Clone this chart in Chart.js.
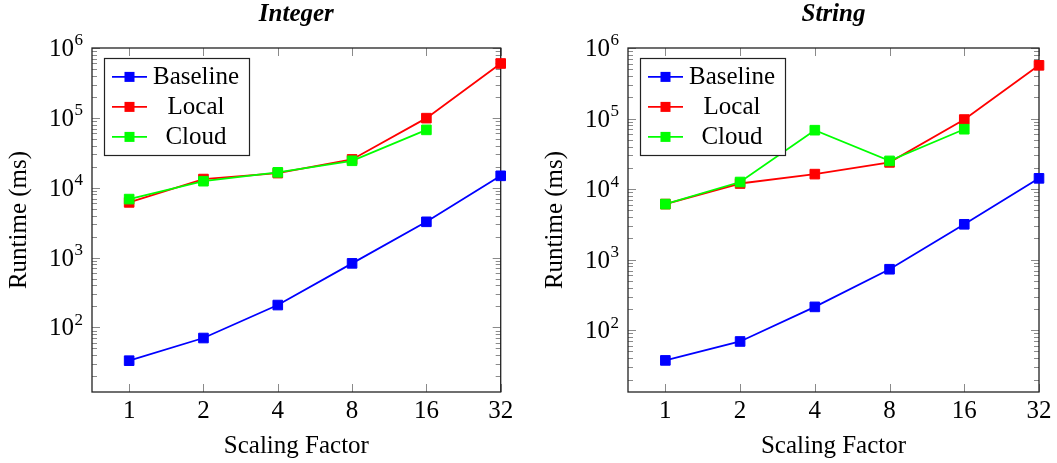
<!DOCTYPE html>
<html><head><meta charset="utf-8">
<script src="https://cdn.jsdelivr.net/npm/chart.js@4"></script>
<style>
html,body{margin:0;padding:0;background:#fff;}
#wrap{position:relative;width:1057px;height:463px;overflow:hidden;}
.c{position:absolute;top:0;height:463px;}
</style></head><body>
<div id="wrap">
<div class="c" style="left:0;width:530px"><canvas id="c1"></canvas></div>
<div class="c" style="left:530px;width:527px"><canvas id="c2"></canvas></div>
</div>
<script>
const categories = ['1','2','4','8','16','32'];
const yTickValues = [1e2, 1e3, 1e4, 1e5, 1e6];
const seriesNames = ['Baseline', 'Local', 'Cloud'];
const seriesColors = ['#0000ff', '#ff0000', '#00ff00'];

const intBaseline = [33.4, 70.5, 209, 826, 3250, 14800];
const intLocal    = [6160, 13300, 16200, 25400, 99000, 600000];
const intCloud    = [6870, 12400, 16600, 24300, 67300, null];

const strBaseline = [37.3, 69.2, 214, 731, 3170, 14200];
const strLocal    = [6130, 12000, 16300, 23900, 96800, 568000];
const strCloud    = [6130, 12600, 68400, 25100, 70600, null];

const FAMILY = "'Liberation Serif', 'Times New Roman', serif";
Chart.defaults.font.family = FAMILY;
Chart.defaults.font.size = 25;
Chart.defaults.color = '#000';

const decor = {
  id: 'decor',
  beforeDatasetsDraw(chart) {
    const ctx = chart.ctx, a = chart.chartArea, xs = chart.scales.x, ys = chart.scales.y;
    ctx.save();
    ctx.strokeStyle = '#8a8a8a';
    ctx.lineWidth = 1;
    ctx.beginPath();
    for (let i = 0; i < categories.length; i++) {
      const px = Math.round(xs.getPixelForValue(i)) + 0.5;
      ctx.moveTo(px, a.bottom); ctx.lineTo(px, a.bottom - 8);
      ctx.moveTo(px, a.top); ctx.lineTo(px, a.top + 8);
    }
    for (let e = 1; e <= 6; e++) {
      for (let m = 1; m <= 9; m++) {
        const v = m * Math.pow(10, e);
        if (v < ys.min || v > ys.max) continue;
        const py = Math.round(ys.getPixelForValue(v)) + 0.5;
        const len = m === 1 ? 8 : 5;
        ctx.moveTo(a.left, py); ctx.lineTo(a.left + len, py);
        ctx.moveTo(a.right, py); ctx.lineTo(a.right - len, py);
      }
    }
    ctx.stroke();
    ctx.strokeStyle = '#222';
    ctx.lineWidth = 1.3;
    ctx.strokeRect(a.left, a.top, a.right - a.left, a.bottom - a.top);

    // y tick labels: 10^k with a real superscript
    ctx.fillStyle = '#000';
    ctx.textBaseline = 'middle';
    for (const v of yTickValues) {
      const py = ys.getPixelForValue(v);
      const exp = String(Math.round(Math.log10(v)));
      const right = a.left - 9;
      ctx.font = "17px " + FAMILY;
      const ew = ctx.measureText(exp).width;
      ctx.textAlign = 'left';
      ctx.fillText(exp, right - ew, py - 7);
      ctx.font = "25px " + FAMILY;
      ctx.textAlign = 'right';
      ctx.fillText('10', right - ew - 0.5, py + 1.5);
    }
    ctx.restore();
  },
  afterDatasetsDraw(chart) {
    const ctx = chart.ctx, a = chart.chartArea;
    const bx = a.left + 12.5, by = a.top + 10.5, bw = 145, bh = 97;
    ctx.save();
    ctx.fillStyle = '#fff';
    ctx.fillRect(bx, by, bw, bh);
    ctx.strokeStyle = '#222';
    ctx.lineWidth = 1.2;
    ctx.strokeRect(bx, by, bw, bh);
    ctx.font = "25px " + FAMILY;
    ctx.textAlign = 'center';
    ctx.textBaseline = 'middle';
    for (let i = 0; i < seriesNames.length; i++) {
      const ry = by + 18.4 + i * 30;
      ctx.strokeStyle = seriesColors[i];
      ctx.lineWidth = 1.8;
      ctx.beginPath();
      ctx.moveTo(bx + 7.5, ry); ctx.lineTo(bx + 42.5, ry);
      ctx.stroke();
      ctx.fillStyle = seriesColors[i];
      ctx.fillRect(bx + 25 - 5, ry - 5, 10, 10);
      ctx.fillStyle = '#000';
      ctx.fillText(seriesNames[i], bx + 91.5, ry + 1);
    }
    ctx.restore();
  }
};

function makeChart(id, title, base, local, cloud, yMin, yAxisW, yTitlePad, rightPad) {
  const toPts = arr => arr.map((v, i) => ({ x: i, y: v }));
  const mk = (label, arr, color, order) => ({
    label, data: toPts(arr), borderColor: color, backgroundColor: color,
    borderWidth: 1.8, pointStyle: 'rect', pointRadius: 6.8, pointBorderWidth: 1,
    pointHoverRadius: 6.8, order, clip: false, spanGaps: false, tension: 0
  });
  return new Chart(document.getElementById(id), {
    type: 'line',
    data: {
      datasets: [
        mk(seriesNames[0], base, seriesColors[0], 2),
        mk(seriesNames[1], local, seriesColors[1], 1),
        mk(seriesNames[2], cloud, seriesColors[2], 0)
      ]
    },
    options: {
      responsive: true,
      maintainAspectRatio: false,
      animation: false,
      events: [],
      layout: { padding: { left: 0, right: rightPad, top: 0, bottom: 0 } },
      plugins: {
        legend: { display: false },
        tooltip: { enabled: false },
        title: {
          display: true, text: title, fullSize: false, color: '#000',
          font: { size: 25, weight: 'bold', style: 'italic', lineHeight: 1.0 },
          padding: { top: 2, bottom: 21 }
        }
      },
      scales: {
        x: {
          type: 'linear', min: -0.5, max: categories.length - 1,
          afterBuildTicks: s => { s.ticks = categories.map((c, i) => ({ value: i })); },
          afterFit: s => { s.height = 71; },
          ticks: { callback: v => categories[v], padding: 4, maxRotation: 0, autoSkip: false },
          grid: { display: false, drawTicks: false },
          border: { display: false },
          title: { display: true, text: 'Scaling Factor', padding: { top: 0, bottom: 2 } }
        },
        y: {
          type: 'logarithmic', min: yMin, max: 1e6,
          afterBuildTicks: s => { s.ticks = yTickValues.map(v => ({ value: v })); },
          afterFit: s => { s.width = yAxisW; },
          ticks: { display: false },
          grid: { display: false, drawTicks: false },
          border: { display: false },
          title: { display: true, text: 'Runtime (ms)', padding: { top: yTitlePad, bottom: 0 } }
        }
      }
    },
    plugins: [decor]
  });
}

makeChart('c1', 'Integer', intBaseline, intLocal, intCloud, 11.9, 92, 4, 29.3);
makeChart('c2', 'String', strBaseline, strLocal, strCloud, 13.3, 98, 10, 18);
</script>
</body></html>
